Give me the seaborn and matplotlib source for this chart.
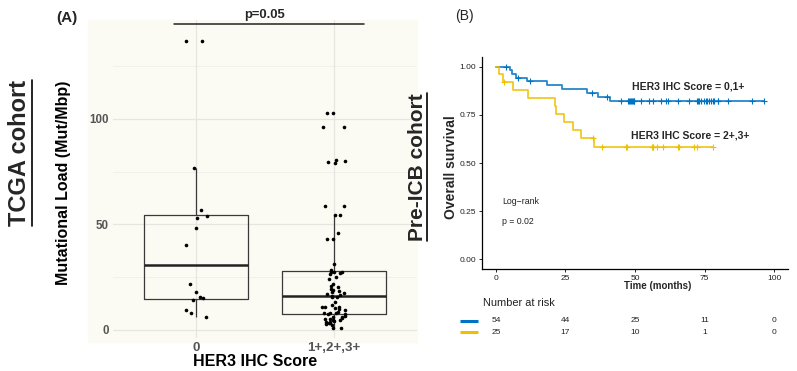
import numpy as np
import pandas as pd
import seaborn as sns
import matplotlib.pyplot as plt
from matplotlib.patches import Rectangle
from matplotlib.lines import Line2D
from matplotlib import transforms

sns.set_theme(style='white')
plt.rcParams['font.family'] = ['Liberation Sans', 'DejaVu Sans']

# (A) TCGA cohort - mutational load by HER3 IHC score
groups = ['0', '1+,2+,3+']
load_her3_0 = [137.1, 137.1, 76.9, 56.7, 53.9, 53.1, 48.2, 40.4, 21.6, 17.9,
               15.5, 15.0, 14.2, 9.3, 8.2, 6.3]
load_her3_pos = [103.0, 103.0, 96.1, 96.1, 80.6, 80.2, 79.5, 78.9, 58.6, 58.6,
                 54.7, 54.5, 45.8, 43.0, 43.0, 31.1, 28.4, 27.5, 27.5, 27.3,
                 27.0, 26.5, 25.3, 24.0, 22.0, 20.9, 20.5, 19.3, 19.0, 18.5,
                 18.2, 17.4, 17.0, 16.6, 16.0, 15.8, 15.8, 13.4, 12.0, 11.1,
                 10.7, 10.7, 10.3, 10.0, 9.5, 8.7, 8.2, 8.0, 7.9, 7.6,
                 7.6, 6.8, 6.3, 6.0, 5.8, 5.1, 5.1, 4.7, 4.5, 4.3,
                 3.9, 3.9, 3.5, 3.2, 2.8, 2.4, 1.1, 0.8]
p_tcga = 'p=0.05'

# (B) Pre-ICB cohort - overall survival (months)
km_labels = ['HER3 IHC Score = 0,1+', 'HER3 IHC Score = 2+,3+']
km_colors = ['#0073C2', '#EFC000']
low_death = [5.1, 5.7, 7.3, 11.2, 18.4, 23.7, 32.7, 36.6, 40.9]
low_censor = [3.7, 7.9, 7.9, 12.1,
              34.4, 40.1, 45.0, 47.4, 47.4, 48.0, 48.0, 48.3, 48.6, 48.6,
              49.0, 49.2, 49.2, 49.5, 49.8, 49.8,
              52.2, 55.2, 56.4, 59.4, 61.2, 61.8, 65.4, 65.4, 69.3, 72.2,
              72.5, 72.9, 73.7, 74.9,
              75.5, 75.9, 76.5, 77.3, 77.9, 78.3, 79.7, 80.0, 83.3, 91.9, 96.2]
high_death = [1.1, 2.7, 6.3, 11.7, 21.4, 21.7, 24.6, 27.6, 30.6, 35.1]
high_censor = [2.9, 34.9, 38.2, 46.8, 47.2, 56.2, 56.3, 56.4, 57.8, 60.2,
               65.4, 65.8, 71.3, 72.2, 78.1]
risk_times = [0, 25, 50, 75, 100]
p_km = 'p = 0.02'


def km_steps(deaths, censors):
    times = sorted(set(deaths) | set(censors))
    at_risk = len(deaths) + len(censors)
    s = 1.0
    xs, ys, cx, cy = [0.0], [1.0], [], []
    for t in times:
        d = deaths.count(t)
        c = censors.count(t)
        if d:
            s *= (at_risk - d) / at_risk
        xs.append(t)
        ys.append(s)
        if c:
            cx.append(t)
            cy.append(s)
        at_risk -= d + c
    return xs, ys, cx, cy


W, H = 797, 371
fig = plt.figure(figsize=(W / 100, H / 100), dpi=100)
cream = '#fbfbf3'
fig.patches.append(Rectangle((88 / W, 1 - 342 / H), 329 / W, 322 / H,
                             transform=fig.transFigure, color=cream, zorder=-10))

# ---- panel A
ax1 = fig.add_axes([113 / W, 1 - 338 / H, 304 / W, 318 / H])
ax1.set_facecolor(cream)
df = pd.DataFrame({'score': [groups[0]] * len(load_her3_0) + [groups[1]] * len(load_her3_pos),
                   'load': load_her3_0 + load_her3_pos})
for v in [25, 75, 125]:
    ax1.axhline(v, color='#f0f0ea', lw=0.6, zorder=0)
for v in [0, 50, 100]:
    ax1.axhline(v, color='#e6e6e0', lw=0.9, zorder=0)
for v in [0, 1]:
    ax1.axvline(v, color='#e6e6e0', lw=0.9, zorder=0)
sns.boxplot(data=df, x='score', y='load', order=groups, width=0.75, fill=False,
            color='#3a3a3a', linewidth=0.9, showfliers=False, showcaps=False,
            medianprops=dict(linewidth=1.8, color='#222222'), ax=ax1)
np.random.seed(7)
sns.stripplot(data=df, x='score', y='load', order=groups, jitter=0.085,
              color='black', size=2.6, ax=ax1, zorder=3)
ax1.set_xlim(-0.6, 1.6)
ax1.set_ylim(-3.8, 146.9)
ax1.set_yticks([0, 50, 100])
ax1.tick_params(axis='both', length=0, colors='#555555', pad=3)
for lab in ax1.get_yticklabels():
    lab.set_fontsize(8.3)
    lab.set_fontweight('bold')
for lab in ax1.get_xticklabels():
    lab.set_fontsize(9.6)
    lab.set_fontweight('bold')
for sp in ax1.spines.values():
    sp.set_visible(False)
ax1.set_xlabel('HER3 IHC Score', fontsize=11.5, fontweight='bold', color='black', va='center')
ax1.xaxis.set_label_coords(0.466, -0.075)
ax1.set_ylabel('Mutational Load (Mut/Mbp)', fontsize=11.5, fontweight='bold', color='black',
               va='center')
ax1.yaxis.set_label_coords(-0.164, 0.487)
ax1.plot([-0.16, 1.215], [145, 145], color='#222222', lw=1.1, clip_on=False)
ax1.text(0.5, 146.2, p_tcga, ha='center', va='bottom', fontsize=9.4,
         fontweight='bold', clip_on=False)

# ---- panel B
ax2 = fig.add_axes([482 / W, 1 - 269 / H, 306 / W, 212 / H])
ax2.set_facecolor('white')
for (deaths, censors), col, lab in zip([(low_death, low_censor), (high_death, high_censor)],
                                      km_colors, km_labels):
    xs, ys, cx, cy = km_steps(deaths, censors)
    sns.lineplot(x=xs, y=ys, drawstyle='steps-post', estimator=None, sort=False,
                 color=col, lw=1.3, alpha=0.85, ax=ax2)
    sns.scatterplot(x=cx, y=cy, marker='+', color=col, s=20, linewidth=0.8, ax=ax2)
ax2.set_xlim(-5, 105)
ax2.set_ylim(-0.05, 1.05)
ax2.set_xticks(risk_times)
ax2.set_yticks([0, 0.25, 0.5, 0.75, 1.0])
ax2.set_yticklabels(['0.00', '0.25', '0.50', '0.75', '1.00'])
ax2.tick_params(axis='both', length=2.5, width=0.6, pad=1.5, labelsize=6,
                colors='black', labelcolor='#222222', left=True, bottom=True)
for side in ['top', 'right']:
    ax2.spines[side].set_visible(False)
for side in ['left', 'bottom']:
    ax2.spines[side].set_color('black')
    ax2.spines[side].set_linewidth(0.9)
ax2.set_xlabel('Time (months)', fontsize=7, fontweight='bold', va='center')
ax2.xaxis.set_label_coords(0.575, -0.08)
ax2.set_ylabel('Overall survival', fontsize=10, fontweight='bold', va='center')
ax2.yaxis.set_label_coords(-0.102, 0.481)
ax2.text(49.1, 0.897, km_labels[0], fontsize=7.5, fontweight='bold', va='center')
ax2.text(48.7, 0.644, km_labels[1], fontsize=7.5, fontweight='bold', va='center')
ax2.text(2.2, 0.30, 'Log\u2212rank', fontsize=6.3, va='center', color='#222222')
ax2.text(2.2, 0.196, p_km, fontsize=6.3, va='center', color='#222222')

# risk table
trans = transforms.blended_transform_factory(ax2.transData, fig.transFigure)
fig.text(483 / W, 1 - 303 / H, 'Number at risk', fontsize=7.9, va='center', color='#222222')
for (deaths, censors), col, ypx in zip([(low_death, low_censor), (high_death, high_censor)],
                                      km_colors, [321, 332]):
    times = np.array(deaths + censors)
    for t in risk_times:
        fig.text(t, 1 - ypx / H, str(int((times >= t).sum())), transform=trans,
                 ha='center', va='center', fontsize=6, color='#222222')
    fig.add_artist(Line2D([460 / W, 478 / W], [1 - ypx / H] * 2, color=col, lw=2.2,
                          solid_capstyle='butt', transform=fig.transFigure))

# panel letters and cohort titles
fig.text(67 / W, 1 - 18 / H, '(A)', fontsize=11, fontweight='bold', ha='center', va='center')
fig.text(464 / W, 1 - 16 / H, '(B)', fontsize=10, ha='center', va='center')
t1 = fig.text(20 / W, 1 - 153 / H, 'TCGA cohort', fontsize=17, fontweight='bold',
              rotation=90, ha='center', va='center')
t2 = fig.text(417 / W, 1 - 167 / H, 'Pre-ICB cohort', fontsize=15, fontweight='bold',
              rotation=90, ha='center', va='center')
fig.canvas.draw()
for t in [t1, t2]:
    bb = t.get_window_extent()
    xline = (bb.x1 + 0.5) / W
    fig.add_artist(Line2D([xline, xline], [bb.y0 / H, bb.y1 / H], color='black', lw=1.2,
                          transform=fig.transFigure))

fig.savefig('out.png', dpi=100)
